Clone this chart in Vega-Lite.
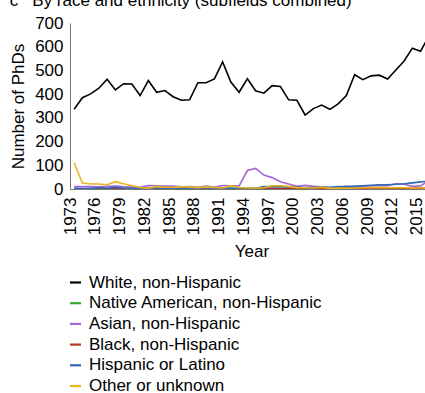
{
  "$schema": "https://vega.github.io/schema/vega-lite/v6.json",
  "width": 363,
  "height": 166,
  "padding": {"left": 9, "top": -8, "right": 0, "bottom": 0},
  "background": "white",
  "title": {"text": "c\u00a0\u00a0\u00a0By race and ethnicity (subfields combined)", "anchor": "start", "frame": "bounds", "fontSize": 17, "fontWeight": "normal", "font": "Liberation Sans", "color": "#000", "offset": 4},
  "data": {"values": [
    {"year":1973,"W":336,"N":1,"A":10,"B":1,"H":3,"O":111},
    {"year":1974,"W":385,"N":1,"A":10,"B":1,"H":2,"O":25},
    {"year":1975,"W":401,"N":1,"A":10,"B":2,"H":2,"O":21},
    {"year":1976,"W":425,"N":1,"A":9,"B":1,"H":6,"O":21},
    {"year":1977,"W":463,"N":2,"A":11,"B":2,"H":3,"O":18},
    {"year":1978,"W":418,"N":1,"A":12,"B":2,"H":8,"O":31},
    {"year":1979,"W":444,"N":1,"A":10,"B":2,"H":4,"O":22},
    {"year":1980,"W":443,"N":2,"A":9,"B":1,"H":3,"O":14},
    {"year":1981,"W":394,"N":1,"A":7,"B":2,"H":3,"O":6},
    {"year":1982,"W":457,"N":1,"A":15,"B":2,"H":4,"O":3},
    {"year":1983,"W":408,"N":2,"A":14,"B":1,"H":4,"O":11},
    {"year":1984,"W":415,"N":1,"A":12,"B":2,"H":3,"O":8},
    {"year":1985,"W":389,"N":2,"A":12,"B":1,"H":3,"O":7},
    {"year":1986,"W":374,"N":1,"A":9,"B":2,"H":4,"O":10},
    {"year":1987,"W":376,"N":2,"A":10,"B":1,"H":3,"O":8},
    {"year":1988,"W":448,"N":3,"A":7,"B":2,"H":4,"O":6},
    {"year":1989,"W":448,"N":2,"A":12,"B":1,"H":4,"O":9},
    {"year":1990,"W":464,"N":4,"A":8,"B":2,"H":3,"O":7},
    {"year":1991,"W":536,"N":2,"A":15,"B":1,"H":5,"O":4},
    {"year":1992,"W":451,"N":2,"A":14,"B":2,"H":3,"O":14},
    {"year":1993,"W":408,"N":1,"A":13,"B":2,"H":4,"O":6},
    {"year":1994,"W":465,"N":2,"A":78,"B":1,"H":4,"O":4},
    {"year":1995,"W":414,"N":2,"A":87,"B":2,"H":3,"O":4},
    {"year":1996,"W":404,"N":3,"A":59,"B":2,"H":10,"O":5},
    {"year":1997,"W":436,"N":2,"A":48,"B":3,"H":10,"O":14},
    {"year":1998,"W":432,"N":2,"A":31,"B":2,"H":10,"O":14},
    {"year":1999,"W":376,"N":3,"A":21,"B":2,"H":9,"O":11},
    {"year":2000,"W":374,"N":2,"A":11,"B":3,"H":8,"O":6},
    {"year":2001,"W":312,"N":3,"A":16,"B":2,"H":6,"O":5},
    {"year":2002,"W":339,"N":2,"A":11,"B":2,"H":6,"O":4},
    {"year":2003,"W":354,"N":1,"A":9,"B":3,"H":9,"O":8},
    {"year":2004,"W":336,"N":2,"A":3,"B":2,"H":7,"O":3},
    {"year":2005,"W":359,"N":3,"A":7,"B":2,"H":10,"O":4},
    {"year":2006,"W":394,"N":2,"A":12,"B":3,"H":9,"O":3},
    {"year":2007,"W":482,"N":3,"A":8,"B":2,"H":12,"O":4},
    {"year":2008,"W":461,"N":2,"A":12,"B":2,"H":14,"O":5},
    {"year":2009,"W":477,"N":3,"A":13,"B":3,"H":16,"O":6},
    {"year":2010,"W":480,"N":2,"A":15,"B":2,"H":18,"O":7},
    {"year":2011,"W":464,"N":3,"A":14,"B":3,"H":18,"O":6},
    {"year":2012,"W":502,"N":2,"A":22,"B":2,"H":20,"O":5},
    {"year":2013,"W":540,"N":3,"A":20,"B":3,"H":22,"O":5},
    {"year":2014,"W":594,"N":2,"A":11,"B":2,"H":26,"O":4},
    {"year":2015,"W":581,"N":3,"A":13,"B":3,"H":30,"O":4},
    {"year":2016,"W":645,"N":2,"A":36,"B":2,"H":33,"O":3}
  ]},
  "transform": [
    {"fold": ["N", "A", "B", "H", "O", "W"], "as": ["key", "value"]},
    {"lookup": "key", "from": {"data": {"values": [
      {"key": "W", "name": "White, non-Hispanic"},
      {"key": "N", "name": "Native American, non-Hispanic"},
      {"key": "A", "name": "Asian, non-Hispanic"},
      {"key": "B", "name": "Black, non-Hispanic"},
      {"key": "H", "name": "Hispanic or Latino"},
      {"key": "O", "name": "Other or unknown"}
    ]}, "key": "key", "fields": ["name"]}}
  ],
  "mark": {"type": "line", "strokeWidth": 1.6, "clip": true},
  "encoding": {
    "x": {"field": "year", "type": "quantitative",
      "scale": {"domain": [1972.5, 2016.5], "nice": false, "zero": false},
      "axis": {"title": "Year", "values": [1973,1976,1979,1982,1985,1988,1991,1994,1997,2000,2003,2006,2009,2012,2015],
        "format": "d", "labelAngle": -90, "labelFontSize": 17, "titleFontSize": 17, "labelFont": "Liberation Sans", "titleFont": "Liberation Sans",
        "titleFontWeight": "normal", "labelColor": "#000", "titleColor": "#000", "grid": false, "ticks": false, "labelPadding": 8, "titlePadding": 9,
        "labelOffset": -4, "domainColor": "#777", "domainWidth": 1, "labelFlush": false, "labelOverlap": false}},
    "y": {"field": "value", "type": "quantitative",
      "scale": {"domain": [0, 700], "nice": false},
      "axis": {"title": "Number of PhDs", "values": [0,100,200,300,400,500,600,700], "labelFontSize": 17, "titleFontSize": 17,
        "labelFont": "Liberation Sans", "titleFont": "Liberation Sans", "titleFontWeight": "normal", "labelColor": "#000", "titleColor": "#000",
        "grid": false, "ticks": false, "labelPadding": 7, "titlePadding": 7, "domainColor": "#777", "domainWidth": 1, "labelFlush": false, "labelOverlap": false}},
    "color": {"field": "name", "type": "nominal",
      "scale": {"domain": ["White, non-Hispanic", "Native American, non-Hispanic", "Asian, non-Hispanic", "Black, non-Hispanic", "Hispanic or Latino", "Other or unknown"],
        "range": ["#000000", "#3aaa35", "#a566d8", "#b5361c", "#2f6ab6", "#eab51d"]},
      "legend": {"title": null, "orient": "none", "legendX": -3, "legendY": 251, "direction": "vertical", "symbolType": "stroke", "symbolSize": 121,
        "symbolStrokeWidth": 2.2, "labelFontSize": 17, "labelFont": "Liberation Sans", "labelColor": "#000", "rowPadding": 2.7, "labelOffset": 5, "padding": 0, "labelLimit": 400}},
    "strokeWidth": {"condition": {"test": "datum.key === 'W'", "value": 2}, "value": 1.6}
  },
  "config": {"view": {"stroke": null}}
}
